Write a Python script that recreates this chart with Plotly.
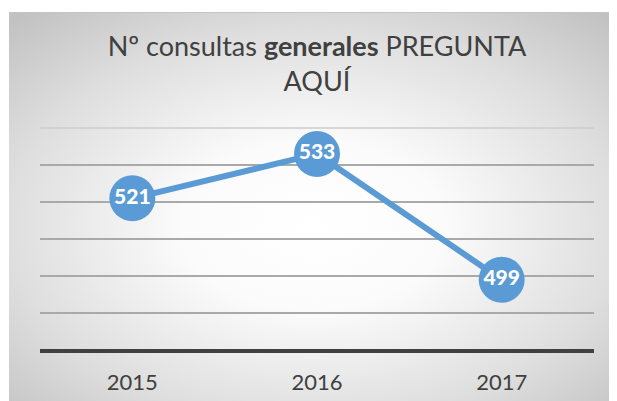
import base64
import plotly.graph_objects as go

years = ["2015", "2016", "2017"]
consultas = [521, 533, 499]
y_ticks = [480, 490, 500, 510, 520, 530, 540]

# page body has an 8px margin: figure coordinates = screen - 8
W, H = 609, 393
L, R, T, B = 32, 23, 120, 51
pw, ph = W - L - R, H - T - B

svg = (
    '<svg xmlns="http://www.w3.org/2000/svg" width="608" height="389" viewBox="0 0 608 389" preserveAspectRatio="none">'
    '<defs><radialGradient id="g" cx="0.5" cy="0.55" r="0.72">'
    '<stop offset="0" stop-color="#ffffff"/>'
    '<stop offset="0.3" stop-color="#fbfbfb"/>'
    '<stop offset="0.7" stop-color="#dedede"/>'
    '<stop offset="1" stop-color="#c2c2c2"/>'
    '</radialGradient></defs>'
    '<rect x="0" y="0" width="608" height="389" fill="url(#g)"/>'
    '<line x1="0" y1="0.5" x2="608" y2="0.5" stroke="#c4c4c4" stroke-width="1"/>'
    '</svg>'
)
src = "data:image/svg+xml;base64," + base64.b64encode(svg.encode()).decode()

fx0, fy0 = 1, 4
img_x = (fx0 - L) / pw
img_sx = (W - fx0) / pw
img_y = (H - B - fy0) / ph
img_sy = (H - fy0) / ph

fig = go.Figure()
fig.add_trace(go.Scatter(
    x=years, y=consultas,
    mode="lines+markers+text",
    line=dict(color="#5B9BD5", width=6),
    marker=dict(size=46, color="#5B9BD5", line=dict(width=0)),
    text=[str(v) for v in consultas],
    textposition="middle center",
    textfont=dict(family="Lato", size=21, color="white", weight=900),
    hoverinfo="skip",
    cliponaxis=False,
))

fig.update_layout(
    width=W, height=H,
    margin=dict(l=L, r=R, t=T, b=B, pad=0),
    paper_bgcolor="white",
    plot_bgcolor="rgba(0,0,0,0)",
    showlegend=False,
    title=dict(
        text="Nº consultas <b>generales</b> PREGUNTA<br>AQUÍ",
        x=0.5, xref="paper", xanchor="center",
        y=1 - 48 / H, yref="container", yanchor="top",
        font=dict(family="Lato", size=27, color="#404040"),
    ),
    xaxis=dict(
        type="category", range=[-0.5, 2.5], automargin=False,
        showgrid=False, zeroline=False, showline=False,
        ticks="", tickfont=dict(family="Lato", size=22, color="#404040"),
        ticklabelstandoff=17,
    ),
    yaxis=dict(
        range=[480, 540], tickvals=y_ticks, showticklabels=False, automargin=False,
        showgrid=True, gridcolor="#a9a9a9", gridwidth=1.5,
        zeroline=False, showline=False, ticks="",
    ),
    images=[dict(
        source=src, xref="paper", yref="paper",
        x=img_x, y=img_y, sizex=img_sx, sizey=img_sy,
        xanchor="left", yanchor="top", sizing="stretch", layer="below",
    )],
    shapes=[
        dict(type="line", xref="paper", yref="paper", x0=0, x1=1, y0=1, y1=1,
             line=dict(color="#cccccc", width=1.5), layer="below"),
        dict(type="line", xref="paper", yref="paper", x0=0, x1=1, y0=-0.004, y1=-0.004,
             line=dict(color="#404040", width=4), layer="above"),
    ],
)

fig.write_html("out.html")
